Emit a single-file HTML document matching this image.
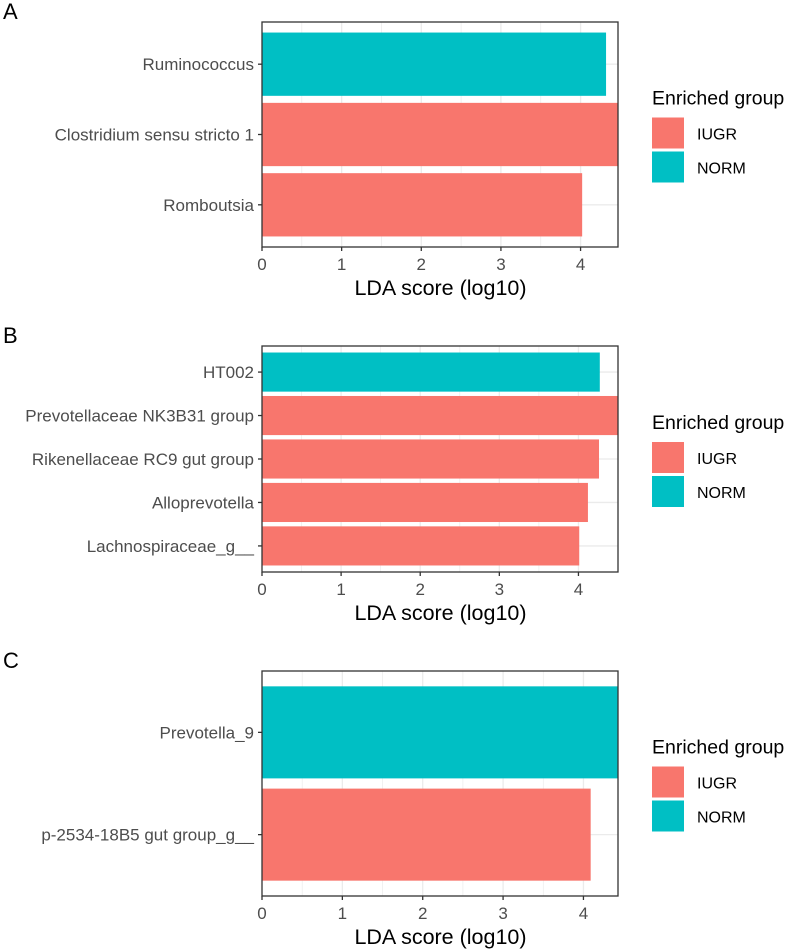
<!DOCTYPE html>
<html><head><meta charset="utf-8">
<style>
html,body{margin:0;padding:0;background:#fff;}
svg{display:block;font-family:"Liberation Sans",Arial,sans-serif;}
</style></head>
<body>
<svg id="chart" width="797" height="949" viewBox="0 0 797 949"></svg>
<script>
const catsA = ["Ruminococcus","Clostridium sensu stricto 1","Romboutsia"];
const valsA = [4.32, 4.47, 4.02];
const grpA = ["NORM","IUGR","IUGR"];
const catsB = ["HT002","Prevotellaceae NK3B31 group","Rikenellaceae RC9 gut group","Alloprevotella","Lachnospiraceae_g__"];
const valsB = [4.27, 4.50, 4.26, 4.12, 4.01];
const grpB = ["NORM","IUGR","IUGR","IUGR","IUGR"];
const catsC = ["Prevotella_9","p-2534-18B5 gut group_g__"];
const valsC = [4.43, 4.09];
const grpC = ["NORM","IUGR"];
const xTicks = [0,1,2,3,4];
const legendLabels = ["IUGR","NORM"];

const colors = {IUGR:"#F8766D", NORM:"#00BFC4"};
const svg = document.getElementById('chart');
const NS = "http://www.w3.org/2000/svg";
function mk(tag, attrs, parent){
  const e = document.createElementNS(NS, tag);
  for (const k in attrs) e.setAttribute(k, attrs[k]);
  (parent||svg).appendChild(e);
  return e;
}

function panel(letter, cats, vals, grps, top, bottom, xmax){
  const L = 262, R = 618;
  const g = mk('g', {});
  
  
  const xs = v => L + v / xmax * (R - L);
  const n = cats.length;
  const unit = (bottom - top) / (n - 1 + 1.2);
  const ys = i => top + (0.6 + i) * unit;
  const lt = mk('text', {x: 3, y: top - 3, 'font-size': 22, fill: '#000'}, g);
  lt.textContent = letter;
  
  
  for (let t = 0.5; t < xmax; t += 0.5) {
    const major = Math.abs(t - Math.round(t)) < 1e-9;
    const gl = mk('line', {x1: xs(t), x2: xs(t), y1: top, y2: bottom, stroke: '#EBEBEB', 'stroke-width': major ? 1.3 : 0.7}, g);
    
    
  }
  for (let i = 0; i < n; i++) {
    const gl = mk('line', {x1: L, x2: R, y1: ys(i), y2: ys(i), stroke: '#EBEBEB', 'stroke-width': 1.3}, g);
    
    
  }
  for (let i = 0; i < n; i++) {
    const bh = unit * 0.9;
    const b = mk('rect', {x: xs(0), y: ys(i) - bh/2, width: Math.min(xs(vals[i]), R) - xs(0), height: bh, fill: colors[grps[i]]}, g);
    
    
    const tk = mk('line', {x1: L - 4, x2: L, y1: ys(i), y2: ys(i), stroke: '#333', 'stroke-width': 1.3}, g);
    
    
    const tl = mk('text', {x: L - 8, y: ys(i) + 6, 'font-size': 17, fill: '#4D4D4D', 'text-anchor': 'end'}, g);
    tl.textContent = cats[i];
    
    
  }
  const br = mk('rect', {x: L, y: top, width: R - L, height: bottom - top, fill: 'none', stroke: '#333', 'stroke-width': 1.3}, g);
  
  
  xTicks.forEach(t => {
    const tk = mk('line', {x1: xs(t), x2: xs(t), y1: bottom, y2: bottom + 4, stroke: '#333', 'stroke-width': 1.3}, g);
    
    
    const tl = mk('text', {x: xs(t), y: bottom + 23, 'font-size': 17, fill: '#4D4D4D', 'text-anchor': 'middle'}, g);
    tl.textContent = t;
    
    
  });
  const at = mk('text', {x: (L + R) / 2 + 0.5, y: bottom + 48, 'font-size': 21.5, fill: '#000', 'text-anchor': 'middle'}, g);
  at.textContent = 'LDA score (log10)';
  
  
  const cy = (top + bottom) / 2;
  const lg = mk('g', {}, g);
  
  
  const ttl = mk('text', {x: 652, y: cy - 30, 'font-size': 19.5, fill: '#000'}, lg);
  ttl.textContent = 'Enriched group';
  
  
  legendLabels.forEach((lab, k) => {
    const y0 = cy - 17 + k * 34;
    const sw = mk('rect', {x: 652, y: y0, width: 32, height: 31, fill: colors[lab]}, lg);
    
    
    const tx = mk('text', {x: 697, y: y0 + 22, 'font-size': 16, fill: '#000'}, lg);
    tx.textContent = lab;
    
    
  });
}

panel('A', catsA, valsA, grpA, 22, 247, 4.47);
panel('B', catsB, valsB, grpB, 346, 572, 4.50);
panel('C', catsC, valsC, grpC, 671, 896, 4.43);
</script>
</body></html>
